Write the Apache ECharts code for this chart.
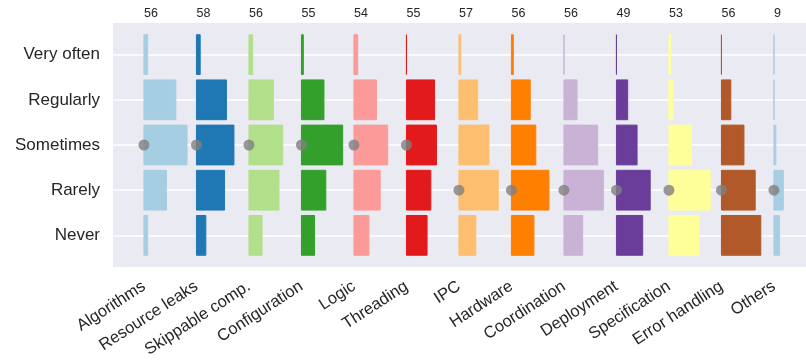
<!DOCTYPE html>
<html>
<head>
<meta charset="utf-8">
<script src="https://cdn.jsdelivr.net/npm/echarts@6/dist/echarts.min.js"></script>
<style>
  html, body { margin: 0; padding: 0; background: #ffffff; }
  #chart { width: 806px; height: 364px; }
</style>
</head>
<body>
<div id="chart"></div>
<script>
// Survey answers: how often each kind of issue is encountered
const categories = ['Algorithms', 'Resource leaks', 'Skippable comp.', 'Configuration', 'Logic',
  'Threading', 'IPC', 'Hardware', 'Coordination', 'Deployment', 'Specification',
  'Error handling', 'Others'];
const levels = ['Very often', 'Regularly', 'Sometimes', 'Rarely', 'Never'];

// Number of answers per frequency level, one entry per category
const veryOften = [2, 2, 2, 1, 2, 0, 1, 1, 0, 0, 1, 0, 0];
const regularly = [17, 16, 13, 12, 12, 15, 10, 10, 7, 6, 2, 5, 0];
const sometimes = [23, 20, 18, 22, 18, 16, 16, 13, 18, 11, 12, 12, 1];
const rarely    = [12, 15, 16, 13, 14, 13, 21, 20, 21, 18, 22, 18, 5];
const never     = [2, 5, 7, 7, 8, 11, 9, 12, 10, 14, 16, 21, 3];

// Paired palette, cycling
const colors = ['#a6cee3', '#1f78b4', '#b2df8a', '#33a02c', '#fb9a99', '#e31a1c',
  '#fdbf6f', '#ff7f00', '#cab2d6', '#6a3d9a', '#ffff99', '#b15928', '#a6cee3'];

const counts = [veryOften, regularly, sometimes, rarely, never];

// Each category gets a slot of this many answers along the shared x scale
const SLOT = 28;
const bases = categories.map((c, i) => i * SLOT);
const totals = categories.map((c, i) => counts.reduce((s, row) => s + row[i], 0));
// Median answer level (first level whose cumulative count reaches half)
const medians = categories.map((c, i) => {
  let cum = 0;
  for (let l = 0; l < levels.length; l++) {
    cum += counts[l][i];
    if (cum >= totals[i] / 2) return l;
  }
  return levels.length - 1;
});

const barData = [];
categories.forEach((c, i) => {
  levels.forEach((lv, l) => {
    barData.push([bases[i], l, counts[l][i], i]);
  });
});
const medianData = categories.map((c, i) => [bases[i], medians[i]]);

const FONT = 'Liberation Sans, Arial, sans-serif';
const TEXT = '#262626';
const LEVEL_TICKS = levels.map((l, i) => i);

const chart = echarts.init(document.getElementById('chart'), null, { renderer: 'canvas' });

chart.setOption({
  animation: false,
  backgroundColor: '#ffffff',
  grid: {
    left: 113, right: 0, top: 23, bottom: 97,
    show: true, backgroundColor: '#EAEAF2', borderWidth: 0
  },
  xAxis: [
    {
      type: 'value', position: 'bottom', min: -16.5, max: 353.1,
      axisLine: { show: false },
      axisTick: { show: false, customValues: bases },
      splitLine: { show: false },
      axisLabel: {
        customValues: bases,
        formatter: v => categories[Math.round(v / SLOT)],
        rotate: 33, margin: 18,
        fontSize: 16.5, fontFamily: FONT, color: TEXT
      }
    },
    {
      type: 'value', position: 'top', min: -16.5, max: 353.1,
      axisLine: { show: false },
      axisTick: { show: false, customValues: bases },
      splitLine: { show: false },
      axisLabel: {
        customValues: bases,
        formatter: v => String(totals[Math.round(v / SLOT)]),
        align: 'left', margin: 3,
        fontSize: 12.5, fontFamily: FONT, color: TEXT
      }
    }
  ],
  yAxis: {
    type: 'value', inverse: true, min: -0.7, max: 4.7,
    axisLine: { show: false },
    axisTick: { show: false, customValues: LEVEL_TICKS },
    axisLabel: {
      customValues: LEVEL_TICKS,
      formatter: v => levels[Math.round(v)],
      margin: 13, fontSize: 17, fontFamily: FONT, color: TEXT
    },
    splitLine: { show: true, lineStyle: { color: '#ffffff', width: 1.5 } }
  },
  series: [
    {
      type: 'custom',
      xAxisIndex: 0, yAxisIndex: 0,
      data: barData,
      encode: { x: 0, y: 1 },
      z: 2,
      renderItem: (params, api) => {
        const base = api.value(0);
        const level = api.value(1);
        const n = api.value(2);
        const ci = api.value(3);
        const p0 = api.coord([base, level]);
        const p1 = api.coord([base + n, level]);
        const h = api.size([0, 1])[1] * 0.88;
        return {
          type: 'rect',
          shape: { x: p0[0], y: p0[1] - h / 2, width: p1[0] - p0[0], height: h },
          style: { fill: colors[ci], stroke: colors[ci], lineWidth: 1 }
        };
      }
    },
    {
      type: 'scatter',
      xAxisIndex: 0, yAxisIndex: 0,
      data: medianData,
      symbol: 'circle', symbolSize: 11,
      itemStyle: { color: '#808080' },
      z: 5
    }
  ]
});
</script>
</body>
</html>
